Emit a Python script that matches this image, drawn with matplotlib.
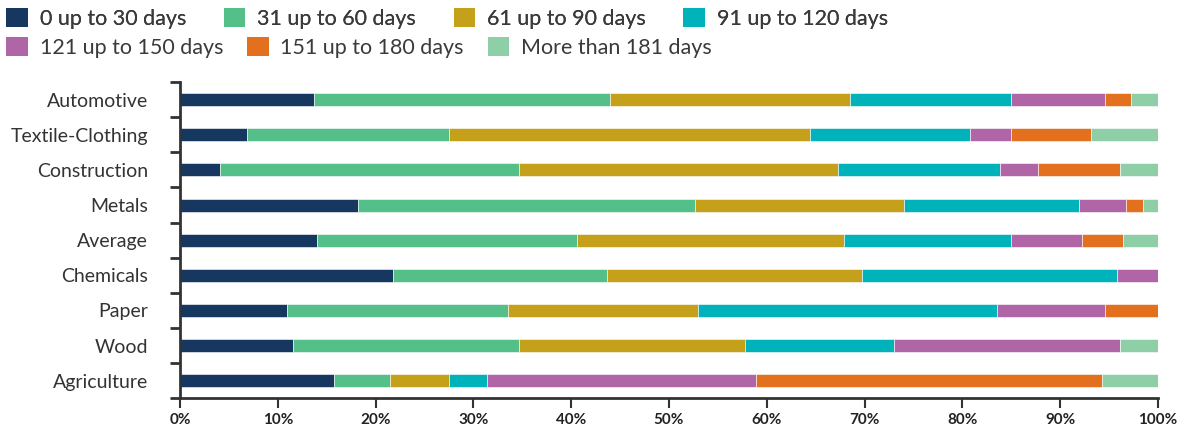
import numpy as np
import matplotlib.pyplot as plt
from matplotlib.patches import Patch

plt.rcParams['font.family'] = ['Lato', 'DejaVu Sans']

categories = ['Automotive', 'Textile-Clothing', 'Construction', 'Metals', 'Average',
              'Chemicals', 'Paper', 'Wood', 'Agriculture']
series_names = ['0 up to 30 days', '31 up to 60 days', '61 up to 90 days', '91 up to 120 days',
                '121 up to 150 days', '151 up to 180 days', 'More than 181 days']

d0_30 = [13.7, 6.8, 4.1, 18.2, 14.0, 21.8, 10.9, 11.6, 15.7]
d31_60 = [30.3, 20.7, 30.6, 34.5, 26.6, 21.9, 22.6, 23.1, 5.8]
d61_90 = [24.5, 36.9, 32.6, 21.3, 27.3, 26.0, 19.5, 23.1, 6.0]
d91_120 = [16.5, 16.4, 16.5, 17.9, 17.1, 26.1, 30.5, 15.2, 3.9]
d121_150 = [9.6, 4.2, 3.9, 4.8, 7.2, 4.2, 11.1, 23.1, 27.5]
d151_180 = [2.6, 8.1, 8.4, 1.8, 4.2, 0.0, 5.4, 0.0, 35.4]
d181 = [2.8, 6.9, 3.9, 1.5, 3.6, 0.0, 0.0, 3.9, 5.7]

colors = ['#16375f', '#55bf8a', '#c4a01b', '#00b2ba', '#b065a6', '#e3701f', '#8ecfa8']

series = [d0_30, d31_60, d61_90, d91_120, d121_150, d151_180, d181]

fig = plt.figure(figsize=(12, 4.3), dpi=100)
ax = fig.add_axes([0.15, 0.074, 0.815, 0.735])

y = np.arange(len(categories))
left = np.zeros(len(categories))
for vals, col in zip(series, colors):
    vals = np.array(vals)
    ax.barh(y, vals, left=left, height=0.37, color=col, edgecolor='white', linewidth=0.4)
    left += vals

ax.set_xlim(0, 100)
ax.set_ylim(len(categories) - 0.5, -0.5)

ax.set_yticks(np.arange(-0.5, len(categories), 1.0))
ax.set_yticklabels([])
ax.set_yticks(y, minor=True)
ax.set_yticklabels(categories, minor=True, fontsize=14, color='#333333')
ax.tick_params(axis='y', which='major', length=7, width=2, color='#333333', direction='out')
ax.tick_params(axis='y', which='minor', length=0, pad=23)

ax.set_xticks(np.arange(0, 101, 10))
ax.set_xticklabels([f'{v}%' for v in range(0, 101, 10)], fontsize=11, fontweight='bold',
                   color='#222222')
ax.tick_params(axis='x', length=7, width=1.5, color='#333333', pad=4)

for side in ['top', 'right']:
    ax.spines[side].set_visible(False)
ax.spines['left'].set_linewidth(2)
ax.spines['left'].set_color('#333333')
ax.spines['bottom'].set_linewidth(2)
ax.spines['bottom'].set_color('#333333')

handles = [Patch(facecolor=c, edgecolor='none') for c in colors]
leg_kw = dict(loc='center left', frameon=False, handlelength=1.0, handleheight=1.0,
              handletextpad=0.55, borderaxespad=0, borderpad=0.3,
              fontsize=15.5, labelcolor='#3a3a3a')
leg1 = fig.legend(handles[:4], series_names[:4], bbox_to_anchor=(0.0, 0.958), ncol=4,
                  columnspacing=1.75, **leg_kw)
fig.legend(handles[4:], series_names[4:], bbox_to_anchor=(0.0, 0.89), ncol=3,
           columnspacing=1.1, **leg_kw)
fig.add_artist(leg1)

fig.savefig('out.png', dpi=100)
